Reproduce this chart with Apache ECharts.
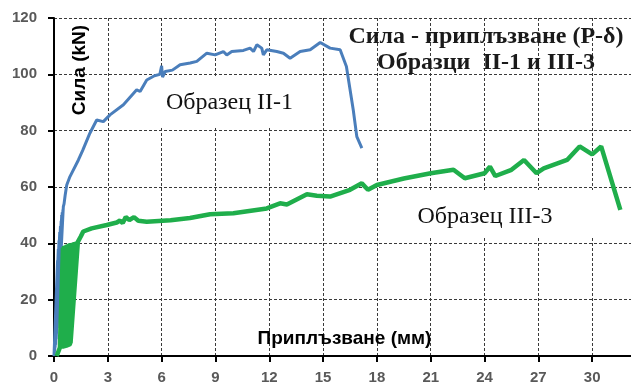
<!DOCTYPE html>
<html>
<head>
<meta charset="utf-8">
<script src="https://cdn.jsdelivr.net/npm/echarts@6/dist/echarts.min.js"></script>
<style>
html,body{margin:0;padding:0;background:#fff;}
#chart{width:631px;height:385px;}
</style>
</head>
<body>
<div id="chart"></div>
<script>
// ---- data (slip mm, force kN) ----
var xTicks = [0, 3, 6, 9, 12, 15, 18, 21, 24, 27, 30];
var yTicks = [0, 20, 40, 60, 80, 100, 120];

var seriesII1Name = 'Образец II-1';
var seriesII1 = [
  [0,0],[0.2,34],[0.02,1],[0.24,38],[0.04,2],[0.28,41],[0.06,3],[0.32,44],[0.09,4],[0.36,46],[0.12,6],
  [0.4,48],[0.15,8],[0.43,50],[0.18,10],[0.46,51],[0.21,14],[0.5,52],[0.24,18],[0.52,53],
  [0.56,54],[0.62,57],[0.71,60.7],[0.89,63.7],[1.36,69.6],[1.6,73],[2.0,79.1],[2.38,83.8],[2.75,83.2],[3.12,85.6],
  [3.87,89.2],[4.61,94.5],[4.8,93.9],[5.17,98],[5.6,99.5],[5.9,100],[6.0,103],[6.05,99],[6.2,101],[6.6,101.5],
  [7.03,103.4],[7.59,104],[7.96,104.6],[8.52,107.5],[8.98,106.9],[9.44,108.1],[9.63,106.9],[9.91,108.1],
  [10.56,108.5],[10.93,109.3],[11.12,108.1],[11.31,110.5],[11.58,109.3],[11.67,106.9],[11.86,108.7],
  [12.42,108.1],[12.79,107.5],[13.16,105.7],[13.72,108.1],[14.28,108.7],[14.84,111.3],[15.39,109.3],
  [15.95,108.7],[16.3,102.8],[16.68,87.4],[16.88,77.9],[17.16,73.8]
];

var seriesIII3Name = 'Образец III-3';
var seriesIII3 = [
  [0.15,0],[0.33,3],[0.5,38.5],[0.38,2.8],[0.57,39],[0.43,2.6],[0.64,39.2],[0.48,2.7],[0.71,39.5],
  [0.53,2.8],[0.78,39.6],[0.58,2.9],[0.85,39.8],[0.63,3],[0.92,40],[0.68,3.1],[0.99,40],[0.73,3.2],
  [1.06,40.2],[0.78,3.3],[1.13,40.3],[0.83,3.5],[1.2,40.4],[0.88,3.8],[1.27,40.6],[0.92,4.5],[1.33,40.5],
  [1.4,41],[1.5,42.5],
  [1.63,44.2],[2.1,45.3],[2.94,46.5],[3.5,47.4],[3.68,48.1],[3.83,47.2],[4.0,49.3],[4.2,48.3],[4.46,49.3],
  [4.7,48],[5.17,47.7],[6.5,48.2],[7.58,49],[8.7,50.3],[10.0,50.7],[11.86,52.4],[12.6,54.2],[12.98,53.8],
  [14.1,57.4],[14.65,56.9],[15.39,56.6],[16.5,59],[17.16,61.3],[17.5,59],[18.0,60.7],[19.5,63],[21.0,64.9],
  [22.27,66.1],[22.9,63.1],[24.0,64.9],[24.3,67.2],[24.6,63.9],[25.5,66.1],[26.2,69.6],[26.9,64.9],
  [27.3,66.6],[28.6,69.6],[29.3,74.4],[30.0,71.6],[30.5,74.4],[31.57,51.9]
];

var titleLines = ['Сила - приплъзване (P-δ)', 'Образци  II-1 и III-3'];
var yName = 'Сила (kN)';
var xName = 'Приплъзване (мм)';

// ---- chart ----
var chart = echarts.init(document.getElementById('chart'), null, {renderer: 'canvas'});
var FONT = 'Liberation Sans, Arial, sans-serif';
var xMin = xTicks[0], xMax = 33, xStep = xTicks[1] - xTicks[0];
var yMin = yTicks[0], yMax = yTicks[yTicks.length - 1], yStep = yTicks[1] - yTicks[0];

var option = {
  animation: false,
  backgroundColor: '#ffffff',
  grid: {left: 54, right: -15, top: 18, bottom: 29, outerBoundsMode: 'none'},
  xAxis: [
    {type: 'value', min: xMin, max: xMax, interval: xStep,
     axisLine: {show: true, onZero: false, lineStyle: {color: '#000', width: 2}},
     axisTick: {show: true, length: 6, lineStyle: {color: '#000', width: 2}},
     axisLabel: {margin: 14, formatter: function(v){return xTicks.indexOf(v) >= 0 ? String(v) : '';},
       color: '#595959', fontWeight: 'bold', fontSize: 15, fontFamily: FONT},
     splitLine: {show: true, lineStyle: {color: '#3a3a3a', width: 1, type: [3, 2]}}},
    {type: 'value', min: xMin, max: xMax, interval: xStep,
     axisLine: {show: false},
     axisTick: {show: true, inside: true, length: 6, lineStyle: {color: '#000', width: 2}},
     axisLabel: {show: false}, splitLine: {show: false}}
  ],
  yAxis: [
    {type: 'value', min: yMin, max: yMax, interval: yStep,
     axisLine: {show: true, onZero: false, lineStyle: {color: '#000', width: 2}},
     axisTick: {show: true, length: 6, lineStyle: {color: '#000', width: 2}},
     axisLabel: {margin: 17, color: '#595959', fontWeight: 'bold', fontSize: 15, fontFamily: FONT},
     splitLine: {show: true, lineStyle: {color: '#3a3a3a', width: 1, type: [3, 2]}}}
  ],
  series: [
    {name: seriesII1Name, type: 'line', data: seriesII1, showSymbol: false, symbol: 'none',
     lineStyle: {color: '#4a7ebb', width: 3}, z: 3},
    {name: seriesIII3Name, type: 'line', data: seriesIII3, showSymbol: false, symbol: 'none',
     lineStyle: {color: '#1fae4b', width: 4.5}, z: 4}
  ],
  graphic: [
    {type: 'rect', shape: {x: 147, y: 78, width: 163, height: 49}, style: {fill: '#fff'}, z: 1, silent: true},
    {type: 'rect', shape: {x: 380, y: 190, width: 213, height: 48}, style: {fill: '#fff'}, z: 1, silent: true},
    {type: 'text', x: 229.5, y: 103, z: 5, style: {text: seriesII1Name, fill: '#111', font: '24px "Liberation Serif", "Times New Roman", serif', textAlign: 'center', textVerticalAlign: 'middle'}},
    {type: 'text', x: 485, y: 217, z: 5, style: {text: seriesIII3Name, fill: '#111', font: '24px "Liberation Serif", "Times New Roman", serif', textAlign: 'center', textVerticalAlign: 'middle'}},
    {type: 'text', x: 486, y: 37, z: 5, style: {text: titleLines[0], fill: '#1a1a1a', font: 'bold 24px "Liberation Serif", "Times New Roman", serif', textAlign: 'center', textVerticalAlign: 'middle'}},
    {type: 'text', x: 486, y: 63, z: 5, style: {text: titleLines[1], fill: '#1a1a1a', font: 'bold 24px "Liberation Serif", "Times New Roman", serif', textAlign: 'center', textVerticalAlign: 'middle'}},
    {type: 'text', x: 80, y: 70, rotation: Math.PI / 2, z: 5, style: {text: yName, fill: '#000', font: 'bold 19px "Liberation Sans", Arial, sans-serif', textAlign: 'center', textVerticalAlign: 'middle'}},
    {type: 'text', x: 344.5, y: 339, z: 5, style: {text: xName, fill: '#000', font: 'bold 19px "Liberation Sans", Arial, sans-serif', textAlign: 'center', textVerticalAlign: 'middle'}}
  ]
};
chart.setOption(option);
</script>
</body>
</html>
